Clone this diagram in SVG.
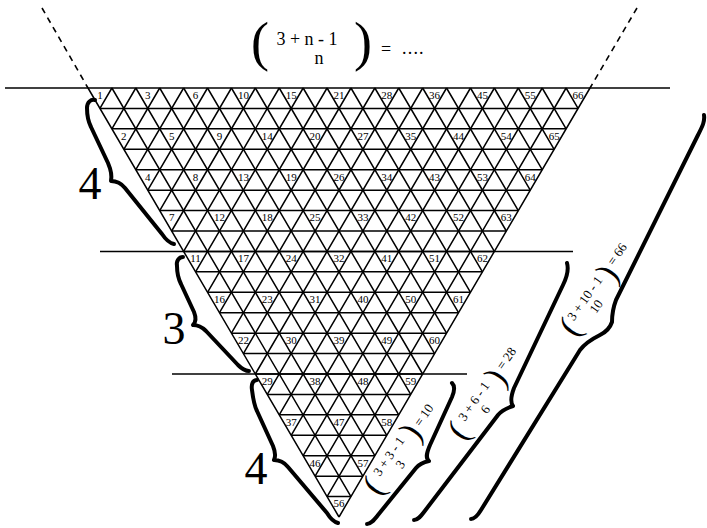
<svg xmlns="http://www.w3.org/2000/svg" width="707" height="528" viewBox="0 0 707 528">
<style>
.g{fill:none;stroke:#000;stroke-width:1.5}
.sep{fill:none;stroke:#000;stroke-width:1.5}
.dash{fill:none;stroke:#000;stroke-width:1.6;stroke-dasharray:6 5}
.br{fill:none;stroke:#000;stroke-width:4;stroke-linecap:round;stroke-linejoin:round}
.num{font-family:"Liberation Serif","Times New Roman",serif;font-size:11px;text-anchor:middle;fill:#000}
.big{font-family:"Liberation Serif","Times New Roman",serif;font-size:46px;text-anchor:middle;fill:#000}
.f{font-family:"Liberation Serif","Times New Roman",serif;fill:#000}
.m{text-anchor:middle}
</style>
<rect width="707" height="528" fill="#fff"/>
<g id="separators">
<line class="sep" x1="5" y1="88" x2="670" y2="88"/>
<line class="sep" x1="100" y1="251.4" x2="573" y2="251.4"/>
<line class="sep" x1="172" y1="374" x2="467" y2="374"/>
<line class="dash" x1="42" y1="8" x2="88" y2="88"/>
<line class="dash" x1="637" y1="8" x2="590" y2="88"/>
</g>
<g id="grid">
<path class="g" d="M99.95 108.43H578.05M111.9 128.86H566.1M123.86 149.29H554.14M135.81 169.71H542.19M147.76 190.14H530.24M159.71 210.57H518.29M171.67 231H506.33M183.62 251.43H494.38M195.57 271.86H482.43M207.52 292.29H470.48M219.48 312.71H458.52M231.43 333.14H446.57M243.38 353.57H434.62M255.33 374H422.67M267.29 394.43H410.71M279.24 414.86H398.76M291.19 435.29H386.81M303.14 455.71H374.86M315.1 476.14H362.9M327.05 496.57H350.95"/>
<path class="g" d="M88 88L339 517M111.9 88L350.95 496.57M135.81 88L362.9 476.14M159.71 88L374.86 455.71M183.62 88L386.81 435.29M207.52 88L398.76 414.86M231.43 88L410.71 394.43M255.33 88L422.67 374M279.24 88L434.62 353.57M303.14 88L446.57 333.14M327.05 88L458.52 312.71M350.95 88L470.48 292.29M374.86 88L482.43 271.86M398.76 88L494.38 251.43M422.67 88L506.33 231M446.57 88L518.29 210.57M470.48 88L530.24 190.14M494.38 88L542.19 169.71M518.29 88L554.14 149.29M542.19 88L566.1 128.86M566.1 88L578.05 108.43"/>
<path class="g" d="M111.9 88L99.95 108.43M135.81 88L111.9 128.86M159.71 88L123.86 149.29M183.62 88L135.81 169.71M207.52 88L147.76 190.14M231.43 88L159.71 210.57M255.33 88L171.67 231M279.24 88L183.62 251.43M303.14 88L195.57 271.86M327.05 88L207.52 292.29M350.95 88L219.48 312.71M374.86 88L231.43 333.14M398.76 88L243.38 353.57M422.67 88L255.33 374M446.57 88L267.29 394.43M470.48 88L279.24 414.86M494.38 88L291.19 435.29M518.29 88L303.14 455.71M542.19 88L315.1 476.14M566.1 88L327.05 496.57M590 88L339 517"/>
</g>
<g id="numbers">
<text class="num" x="99.95" y="98.8">1</text><text class="num" x="147.76" y="98.8">3</text><text class="num" x="195.57" y="98.8">6</text><text class="num" x="243.38" y="98.8">10</text><text class="num" x="291.19" y="98.8">15</text><text class="num" x="339" y="98.8">21</text><text class="num" x="386.81" y="98.8">28</text><text class="num" x="434.62" y="98.8">36</text><text class="num" x="482.43" y="98.8">45</text><text class="num" x="530.24" y="98.8">55</text><text class="num" x="578.05" y="98.8">66</text>
<text class="num" x="123.86" y="139.66">2</text><text class="num" x="171.67" y="139.66">5</text><text class="num" x="219.48" y="139.66">9</text><text class="num" x="267.29" y="139.66">14</text><text class="num" x="315.1" y="139.66">20</text><text class="num" x="362.9" y="139.66">27</text><text class="num" x="410.71" y="139.66">35</text><text class="num" x="458.52" y="139.66">44</text><text class="num" x="506.33" y="139.66">54</text><text class="num" x="554.14" y="139.66">65</text>
<text class="num" x="147.76" y="180.51">4</text><text class="num" x="195.57" y="180.51">8</text><text class="num" x="243.38" y="180.51">13</text><text class="num" x="291.19" y="180.51">19</text><text class="num" x="339" y="180.51">26</text><text class="num" x="386.81" y="180.51">34</text><text class="num" x="434.62" y="180.51">43</text><text class="num" x="482.43" y="180.51">53</text><text class="num" x="530.24" y="180.51">64</text>
<text class="num" x="171.67" y="221.37">7</text><text class="num" x="219.48" y="221.37">12</text><text class="num" x="267.29" y="221.37">18</text><text class="num" x="315.1" y="221.37">25</text><text class="num" x="362.9" y="221.37">33</text><text class="num" x="410.71" y="221.37">42</text><text class="num" x="458.52" y="221.37">52</text><text class="num" x="506.33" y="221.37">63</text>
<text class="num" x="195.57" y="262.23">11</text><text class="num" x="243.38" y="262.23">17</text><text class="num" x="291.19" y="262.23">24</text><text class="num" x="339" y="262.23">32</text><text class="num" x="386.81" y="262.23">41</text><text class="num" x="434.62" y="262.23">51</text><text class="num" x="482.43" y="262.23">62</text>
<text class="num" x="219.48" y="303.09">16</text><text class="num" x="267.29" y="303.09">23</text><text class="num" x="315.1" y="303.09">31</text><text class="num" x="362.9" y="303.09">40</text><text class="num" x="410.71" y="303.09">50</text><text class="num" x="458.52" y="303.09">61</text>
<text class="num" x="243.38" y="343.94">22</text><text class="num" x="291.19" y="343.94">30</text><text class="num" x="339" y="343.94">39</text><text class="num" x="386.81" y="343.94">49</text><text class="num" x="434.62" y="343.94">60</text>
<text class="num" x="267.29" y="384.8">29</text><text class="num" x="315.1" y="384.8">38</text><text class="num" x="362.9" y="384.8">48</text><text class="num" x="410.71" y="384.8">59</text>
<text class="num" x="291.19" y="425.66">37</text><text class="num" x="339" y="425.66">47</text><text class="num" x="386.81" y="425.66">58</text>
<text class="num" x="315.1" y="466.51">46</text><text class="num" x="362.9" y="466.51">57</text>
<text class="num" x="339" y="507.37">56</text>
</g>
<g id="title-formula">
<text class="f" x="251" y="60" font-size="54">(</text>
<text class="f m" x="307" y="45" font-size="18">3 + n - 1</text>
<text class="f m" x="319" y="64" font-size="18">n</text>
<text class="f" x="354" y="60" font-size="54">)</text>
<text class="f" x="381" y="55" font-size="18">=</text>
<text class="f" x="402" y="54" font-size="18" letter-spacing="1.2">....</text>
</g>
<g id="left-braces">
<path class="br" d="M95 100C91 99 87 102 87 108C87 115 88 121 91 127L108 163C111 170 112 176 111 181C116 181 121 183 125 188L162 234C166 240 169 243 174 244"/>
<path class="br" d="M183 257C179 257 176 261 177 266C177 272 178 278 181 284L194 312C196 317 196 322 193 325C198 325 202 327 206 331L238 365C242 369 245 371 249 371"/>
<path class="br" d="M257 380C253 380 251 384 252 390C253 398 254 405 257 411L273 446C275 451 276 456 274 460C279 460 284 462 288 467L327 513C330 518 334 522 338 523"/>
<text class="big" x="90" y="199">4</text>
<text class="big" x="174" y="344">3</text>
<text class="big" x="256" y="484">4</text>
</g>
<g id="right-braces">
<path class="br" d="M367 524C371 524 374 520 378 515L416 468C420 463 424 462 429 461C425 458 427 452 430 445L452 397C455 390 455 386 452 383"/>
<path class="br" d="M414 520C418 520 421 516 424 512L498 415C502 410 507 408 513 406C510 402 511 396 514 388L563 285C567 277 569 270 567 263"/>
<path class="br" d="M471 519C475 519 478 515 481 510L580 350C586 342 594 338 600 335C606 332 610 328 612 322C612 315 613 308 616 300L698 135C702 127 705 122 704 115"/>
</g>
<g id="formula-10" transform="translate(394 460) rotate(-55)">
<text class="f" x="-39" y="9" font-size="34">(</text>
<text class="f m" x="0" y="-2" font-size="13">3 + 3 - 1</text>
<text class="f m" x="0" y="12" font-size="13">3</text>
<text class="f" x="27" y="9" font-size="34">)</text>
<text class="f" x="42" y="3" font-size="13">=  10</text>
</g>
<g id="formula-28" transform="translate(479 405) rotate(-55)">
<text class="f" x="-39" y="9" font-size="34">(</text>
<text class="f m" x="0" y="-2" font-size="13">3 + 6 - 1</text>
<text class="f m" x="0" y="12" font-size="13">6</text>
<text class="f" x="27" y="9" font-size="34">)</text>
<text class="f" x="42" y="0" font-size="13">=  28</text>
</g>
<g id="formula-66" transform="translate(590 302) rotate(-55)">
<text class="f" x="-38" y="9" font-size="34">(</text>
<text class="f m" x="0" y="-2" font-size="13">3 + 10 - 1</text>
<text class="f m" x="0" y="12" font-size="13">10</text>
<text class="f" x="28" y="9" font-size="34">)</text>
<text class="f" x="43" y="-1" font-size="13">=  66</text>
</g>
</svg>
